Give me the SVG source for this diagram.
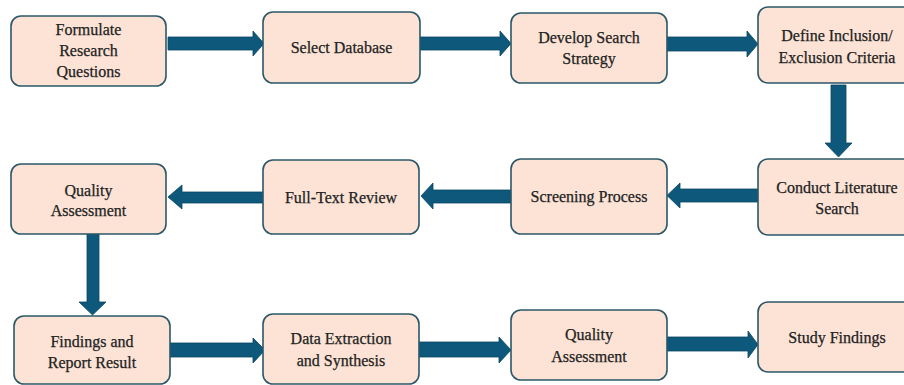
<svg xmlns="http://www.w3.org/2000/svg" width="904" height="385" viewBox="0 0 904 385">
<style>
.box{fill:#FCE3D5;stroke:#2B5768;stroke-width:1.6}
.t{font-family:'Liberation Serif','Tinos','DejaVu Serif',serif;font-size:16px;fill:#222;text-anchor:middle;stroke:#222;stroke-width:0.25}
.arr{fill:#0D587B;stroke:#0A4866;stroke-width:0.8}
</style>
<rect width="904" height="385" fill="#fff"/>
<g id="connectors">
<polygon class="arr" points="168,37 253,37 253,31 264,43.5 253,56 253,50 168,50"/>
<polygon class="arr" points="420,37 500,37 500,31 511,43.5 500,56 500,50 420,50"/>
<polygon class="arr" points="667,37 747,37 747,31 758,44 747,57 747,51 667,51"/>
<polygon class="arr" points="831,85 846,85 846,143 852,143 838.5,157 825,143 831,143"/>
<polygon class="arr" points="758,189 680,189 680,183 667,195.5 680,208 680,202 758,202"/>
<polygon class="arr" points="511,190 433,190 433,183 421,196 433,209 433,203 511,203"/>
<polygon class="arr" points="263,192 182,192 182,185 168,197 182,209 182,203 263,203"/>
<polygon class="arr" points="87,234 99,234 99,302 106,302 92.5,315 79,302 87,302"/>
<polygon class="arr" points="170,343 253,343 253,338 265,350 253,363 253,357 170,357"/>
<polygon class="arr" points="419,342 499,342 499,337 511,350 499,363 499,357 419,357"/>
<polygon class="arr" points="667,337 748,337 748,331 758,344.5 748,358 748,351 667,351"/>
</g>
<g id="n1"><rect class="box" x="11" y="16" width="155" height="70" rx="10"/>
<text class="t" x="88.5" y="35">Formulate</text><text class="t" x="88.5" y="56">Research</text><text class="t" x="88.5" y="77">Questions</text></g>
<g id="n2"><rect class="box" x="263" y="12" width="157" height="71" rx="10"/>
<text class="t" x="341.5" y="53">Select Database</text></g>
<g id="n3"><rect class="box" x="511" y="13" width="156" height="70" rx="10"/>
<text class="t" x="589" y="43">Develop Search</text><text class="t" x="589" y="64">Strategy</text></g>
<g id="n4"><rect class="box" x="758" y="7" width="158" height="76" rx="10"/>
<text class="t" x="837" y="41">Define Inclusion/</text><text class="t" x="837" y="63">Exclusion Criteria</text></g>
<g id="n5"><rect class="box" x="758" y="159" width="158" height="76" rx="10"/>
<text class="t" x="837" y="193">Conduct Literature</text><text class="t" x="837" y="214">Search</text></g>
<g id="n6"><rect class="box" x="511" y="159" width="156" height="75" rx="10"/>
<text class="t" x="589" y="202">Screening Process</text></g>
<g id="n7"><rect class="box" x="263" y="160" width="156" height="74" rx="10"/>
<text class="t" x="341" y="203">Full-Text Review</text></g>
<g id="n8"><rect class="box" x="11" y="164" width="155" height="70" rx="10"/>
<text class="t" x="88.5" y="196">Quality</text><text class="t" x="88.5" y="216">Assessment</text></g>
<g id="n9"><rect class="box" x="14" y="316" width="156" height="68" rx="10"/>
<text class="t" x="92" y="347">Findings and</text><text class="t" x="92" y="368">Report Result</text></g>
<g id="n10"><rect class="box" x="263" y="314" width="156" height="70" rx="10"/>
<text class="t" x="341" y="344">Data Extraction</text><text class="t" x="341" y="366">and Synthesis</text></g>
<g id="n11"><rect class="box" x="511" y="310" width="156" height="70" rx="10"/>
<text class="t" x="589" y="340">Quality</text><text class="t" x="589" y="362">Assessment</text></g>
<g id="n12"><rect class="box" x="758" y="302" width="158" height="70" rx="10"/>
<text class="t" x="837" y="343">Study Findings</text></g>
</svg>
